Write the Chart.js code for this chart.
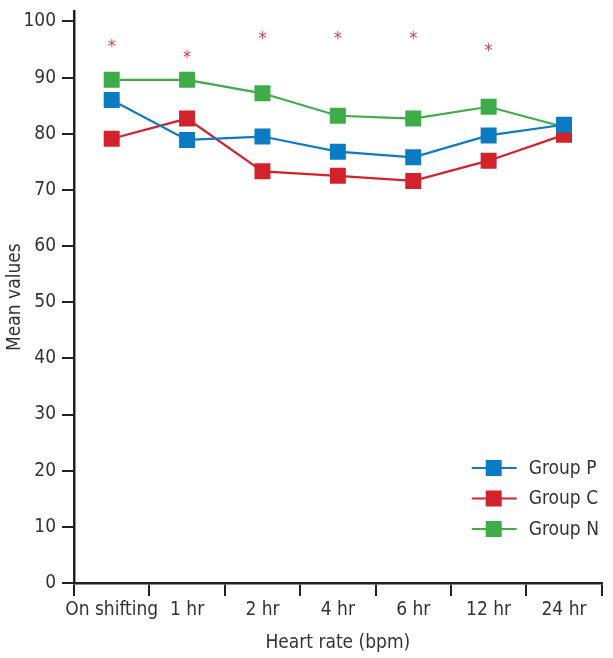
<!DOCTYPE html>
<html>
<head>
<meta charset="utf-8">
<script src="https://cdn.jsdelivr.net/npm/chart.js@4"></script>
<style>
  html, body { margin: 0; padding: 0; background: #fff; }
  #wrap { width: 613px; height: 658px; }
</style>
</head>
<body>
<div id="wrap"><canvas id="myChart" width="613" height="658"></canvas></div>
<script>
// categories and values
var labels = ['On shifting', '1 hr', '2 hr', '4 hr', '6 hr', '12 hr', '24 hr'];
var groupP = [86.0, 78.9, 79.5, 76.8, 75.8, 79.7, 81.6];
var groupC = [79.1, 82.7, 73.3, 72.5, 71.6, 75.2, 79.8];
var groupN = [89.6, 89.6, 87.2, 83.2, 82.7, 84.8, 81.2];
// where the significance asterisks sit (null = none)
var stars = [96.0, 94.0, 97.3, 97.3, 97.3, 95.2, null];
var yTicks = [0, 10, 20, 30, 40, 50, 60, 70, 80, 90, 100];

var FONT = '"Liberation Sans Narrow", "DejaVu Sans Condensed", sans-serif';
var TXT = '#333333';

// draw "*" over the points of the star dataset
var starPlugin = {
    id: 'stars',
    afterDatasetsDraw: function(chart) {
        var meta = chart.getDatasetMeta(3);
        var ctx = chart.ctx;
        ctx.save();
        ctx.fillStyle = '#d6404a';
        ctx.font = '18px ' + FONT;
        ctx.textAlign = 'center';
        ctx.textBaseline = 'middle';
        meta.data.forEach(function(pt, i) {
            if (stars[i] === null) return;
            ctx.fillText('*', pt.x, pt.y + 3);
        });
        ctx.restore();
    }
};

// legend inside the plot, bottom right
var legendPlugin = {
    id: 'boxLegend',
    afterDraw: function(chart) {
        var ctx = chart.ctx;
        var area = chart.chartArea;
        var x0 = area.right - 130;
        var y0 = area.bottom - 115;
        ctx.save();
        ctx.font = '19px ' + FONT;
        ctx.textBaseline = 'middle';
        for (var i = 0; i < 3; i++) {
            var ds = chart.data.datasets[i];
            var y = y0 + i * 30.5;
            ctx.strokeStyle = ds.borderColor;
            ctx.lineWidth = 2;
            ctx.beginPath();
            ctx.moveTo(x0, y);
            ctx.lineTo(x0 + 45, y);
            ctx.stroke();
            ctx.fillStyle = ds.backgroundColor;
            ctx.fillRect(x0 + 14, y - 8, 16, 16);
            ctx.fillStyle = TXT;
            ctx.fillText(ds.label, x0 + 57, y + 1);
        }
        ctx.restore();
    }
};

function series(label, data, color) {
    return {
        label: label,
        data: data,
        borderColor: color,
        backgroundColor: color,
        borderWidth: 2.2,
        pointStyle: 'rect',
        pointRadius: 11.3,
        pointBorderWidth: 0,
        tension: 0
    };
}

var ctx = document.getElementById('myChart').getContext('2d');
var myChart = new Chart(ctx, {
    type: 'line',
    data: {
        labels: labels,
        datasets: [
            series('Group P', groupP, '#0b7bc3'),
            series('Group C', groupC, '#d2232c'),
            series('Group N', groupN, '#3fac4a'),
            {
                label: 'stars',
                data: stars,
                showLine: false,
                pointRadius: 0,
                borderColor: 'rgba(0,0,0,0)'
            }
        ]
    },
    options: {
        responsive: false,
        animation: false,
        layout: { padding: { top: 4, right: 5, left: 0, bottom: 0 } },
        plugins: {
            legend: { display: false },
            tooltip: { enabled: false }
        },
        scales: {
            x: {
                offset: true,
                grid: {
                    offset: true,
                    drawOnChartArea: false,
                    drawTicks: true,
                    tickLength: 13,
                    color: '#222',
                    lineWidth: 2
                },
                border: { color: '#222', width: 2.5 },
                ticks: {
                    color: TXT,
                    font: { family: FONT, size: 19 },
                    padding: 3,
                    maxRotation: 0,
                    autoSkip: false
                },
                title: {
                    display: true,
                    text: 'Heart rate (bpm)',
                    color: TXT,
                    font: { family: FONT, size: 19 },
                    padding: { top: 0, bottom: 4 }
                },
                afterFit: function(scale) {
                    scale.height = 75;
                    scale.paddingLeft = 0;
                    scale.paddingRight = 0;
                }
            },
            y: {
                min: 0,
                max: 101.8,
                afterBuildTicks: function(axis) {
                    axis.ticks = yTicks.map(function(v) { return { value: v }; });
                },
                grid: {
                    drawOnChartArea: false,
                    tickLength: 12,
                    color: '#222',
                    lineWidth: 2
                },
                border: { color: '#222', width: 2.5 },
                ticks: {
                    color: TXT,
                    font: { family: FONT, size: 19 },
                    padding: 6
                },
                title: {
                    display: true,
                    text: 'Mean values',
                    color: TXT,
                    font: { family: FONT, size: 19 },
                    padding: { bottom: 0 }
                },
                afterFit: function(scale) {
                    scale.width = 74;
                    scale.paddingTop = 0;
                    scale.paddingBottom = 0;
                }
            }
        }
    },
    plugins: [starPlugin, legendPlugin]
});
</script>
</body>
</html>
